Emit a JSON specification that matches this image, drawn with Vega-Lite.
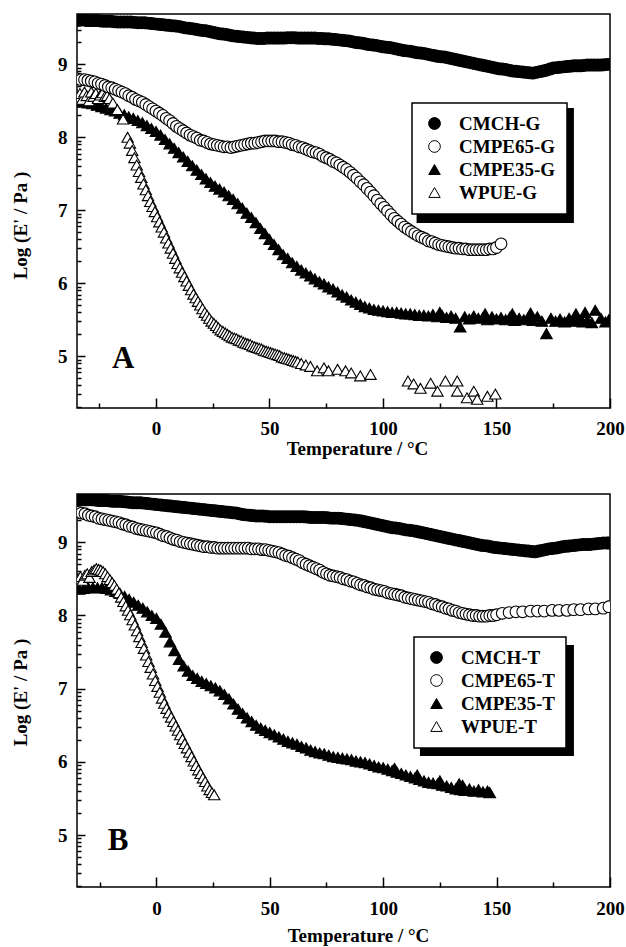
{
"$schema": "https://vega.github.io/schema/vega-lite/v6.json",
"background": "white",
"padding": {"left": 10, "top": 13, "right": 2, "bottom": 2},
"spacing": 34,
"config": {
 "view": {"stroke": "black", "strokeWidth": 1.5},
 "font": "Liberation Serif",
 "axis": {"grid": false, "domain": false, "tickColor": "black", "tickWidth": 1.5, "labelColor": "black", "titleColor": "black", "labelFont": "Liberation Serif", "labelFontSize": 19, "labelFontWeight": "bold", "titleFont": "Liberation Serif", "titleFontSize": 19, "titleFontWeight": "bold", "labelOverlap": false, "labelFlush": false, "labelBound": false, "zindex": 1},
 "legend": {"strokeColor": "black", "strokeWidth": 1.5, "fillColor": "white", "padding": 11, "labelFont": "Liberation Serif", "labelFontSize": 19, "labelFontWeight": "bold", "labelColor": "black", "symbolStrokeWidth": 1, "rowPadding": 3, "labelOffset": 15, "symbolOffset": 2}
},
"datasets": {
"A": [
{"s":"CMPE35-G","t":-34,"v":8.49},{"s":"CMPE35-G","t":-32,"v":8.48},{"s":"CMPE35-G","t":-30,"v":8.47},{"s":"CMPE35-G","t":-28,"v":8.46},{"s":"CMPE35-G","t":-26,"v":8.44},{"s":"CMPE35-G","t":-24,"v":8.42},{"s":"CMPE35-G","t":-22,"v":8.40},{"s":"CMPE35-G","t":-20,"v":8.38},{"s":"CMPE35-G","t":-18,"v":8.36},{"s":"CMPE35-G","t":-16,"v":8.33},{"s":"CMPE35-G","t":-14,"v":8.31},{"s":"CMPE35-G","t":-12,"v":8.28},{"s":"CMPE35-G","t":-10,"v":8.26},{"s":"CMPE35-G","t":-8,"v":8.23},{"s":"CMPE35-G","t":-6,"v":8.20},{"s":"CMPE35-G","t":-4,"v":8.16},{"s":"CMPE35-G","t":-2,"v":8.12},{"s":"CMPE35-G","t":0,"v":8.08},{"s":"CMPE35-G","t":2,"v":8.03},{"s":"CMPE35-G","t":4,"v":7.97},{"s":"CMPE35-G","t":6,"v":7.91},{"s":"CMPE35-G","t":8,"v":7.85},{"s":"CMPE35-G","t":10,"v":7.79},{"s":"CMPE35-G","t":12,"v":7.73},{"s":"CMPE35-G","t":14,"v":7.67},{"s":"CMPE35-G","t":16,"v":7.61},{"s":"CMPE35-G","t":18,"v":7.55},{"s":"CMPE35-G","t":20,"v":7.49},{"s":"CMPE35-G","t":22,"v":7.43},{"s":"CMPE35-G","t":24,"v":7.38},{"s":"CMPE35-G","t":26,"v":7.33},{"s":"CMPE35-G","t":28,"v":7.29},{"s":"CMPE35-G","t":30,"v":7.25},{"s":"CMPE35-G","t":32,"v":7.20},{"s":"CMPE35-G","t":34,"v":7.15},{"s":"CMPE35-G","t":36,"v":7.09},{"s":"CMPE35-G","t":38,"v":7.03},{"s":"CMPE35-G","t":40,"v":6.96},{"s":"CMPE35-G","t":42,"v":6.90},{"s":"CMPE35-G","t":44,"v":6.83},{"s":"CMPE35-G","t":46,"v":6.75},{"s":"CMPE35-G","t":48,"v":6.68},{"s":"CMPE35-G","t":50,"v":6.60},{"s":"CMPE35-G","t":52,"v":6.53},{"s":"CMPE35-G","t":54,"v":6.46},{"s":"CMPE35-G","t":56,"v":6.39},{"s":"CMPE35-G","t":58,"v":6.34},{"s":"CMPE35-G","t":60,"v":6.28},{"s":"CMPE35-G","t":62,"v":6.23},{"s":"CMPE35-G","t":64,"v":6.18},{"s":"CMPE35-G","t":66,"v":6.14},{"s":"CMPE35-G","t":68,"v":6.10},{"s":"CMPE35-G","t":70,"v":6.06},{"s":"CMPE35-G","t":72,"v":6.02},{"s":"CMPE35-G","t":74,"v":5.99},{"s":"CMPE35-G","t":76,"v":5.95},{"s":"CMPE35-G","t":78,"v":5.92},{"s":"CMPE35-G","t":80,"v":5.88},{"s":"CMPE35-G","t":82,"v":5.84},{"s":"CMPE35-G","t":84,"v":5.81},{"s":"CMPE35-G","t":86,"v":5.77},{"s":"CMPE35-G","t":88,"v":5.74},{"s":"CMPE35-G","t":90,"v":5.71},{"s":"CMPE35-G","t":92,"v":5.68},{"s":"CMPE35-G","t":94,"v":5.66},{"s":"CMPE35-G","t":96,"v":5.64},{"s":"CMPE35-G","t":98,"v":5.63},{"s":"CMPE35-G","t":100,"v":5.62},{"s":"CMPE35-G","t":102,"v":5.61},{"s":"CMPE35-G","t":104,"v":5.60},{"s":"CMPE35-G","t":106,"v":5.60},{"s":"CMPE35-G","t":108,"v":5.59},{"s":"CMPE35-G","t":110,"v":5.58},{"s":"CMPE35-G","t":112,"v":5.58},{"s":"CMPE35-G","t":114,"v":5.57},{"s":"CMPE35-G","t":116,"v":5.56},{"s":"CMPE35-G","t":118,"v":5.56},{"s":"CMPE35-G","t":120,"v":5.55},{"s":"CMPE35-G","t":122,"v":5.57},{"s":"CMPE35-G","t":124,"v":5.54},{"s":"CMPE35-G","t":125,"v":5.60},{"s":"CMPE35-G","t":126,"v":5.56},{"s":"CMPE35-G","t":128,"v":5.53},{"s":"CMPE35-G","t":130,"v":5.55},{"s":"CMPE35-G","t":132,"v":5.52},{"s":"CMPE35-G","t":134,"v":5.40},{"s":"CMPE35-G","t":136,"v":5.54},{"s":"CMPE35-G","t":138,"v":5.51},{"s":"CMPE35-G","t":140,"v":5.55},{"s":"CMPE35-G","t":142,"v":5.52},{"s":"CMPE35-G","t":144,"v":5.53},{"s":"CMPE35-G","t":145,"v":5.58},{"s":"CMPE35-G","t":146,"v":5.50},{"s":"CMPE35-G","t":148,"v":5.54},{"s":"CMPE35-G","t":150,"v":5.51},{"s":"CMPE35-G","t":152,"v":5.53},{"s":"CMPE35-G","t":154,"v":5.50},{"s":"CMPE35-G","t":156,"v":5.54},{"s":"CMPE35-G","t":157,"v":5.58},{"s":"CMPE35-G","t":158,"v":5.49},{"s":"CMPE35-G","t":160,"v":5.52},{"s":"CMPE35-G","t":162,"v":5.50},{"s":"CMPE35-G","t":164,"v":5.53},{"s":"CMPE35-G","t":165,"v":5.59},{"s":"CMPE35-G","t":166,"v":5.49},{"s":"CMPE35-G","t":168,"v":5.54},{"s":"CMPE35-G","t":170,"v":5.48},{"s":"CMPE35-G","t":172,"v":5.31},{"s":"CMPE35-G","t":174,"v":5.52},{"s":"CMPE35-G","t":176,"v":5.48},{"s":"CMPE35-G","t":178,"v":5.51},{"s":"CMPE35-G","t":180,"v":5.47},{"s":"CMPE35-G","t":182,"v":5.52},{"s":"CMPE35-G","t":184,"v":5.48},{"s":"CMPE35-G","t":185,"v":5.58},{"s":"CMPE35-G","t":186,"v":5.51},{"s":"CMPE35-G","t":188,"v":5.47},{"s":"CMPE35-G","t":189,"v":5.60},{"s":"CMPE35-G","t":190,"v":5.49},{"s":"CMPE35-G","t":192,"v":5.46},{"s":"CMPE35-G","t":193.5,"v":5.63},{"s":"CMPE35-G","t":196,"v":5.52},{"s":"CMPE35-G","t":198,"v":5.47},{"s":"CMPE35-G","t":199.5,"v":5.50},
{"s":"WPUE-G","t":-34.5,"v":8.55},{"s":"WPUE-G","t":-33.5,"v":8.60},{"s":"WPUE-G","t":-32.5,"v":8.52},{"s":"WPUE-G","t":-31.5,"v":8.62},{"s":"WPUE-G","t":-30.5,"v":8.57},{"s":"WPUE-G","t":-29.5,"v":8.50},{"s":"WPUE-G","t":-28.5,"v":8.62},{"s":"WPUE-G","t":-27.5,"v":8.56},{"s":"WPUE-G","t":-26.5,"v":8.60},{"s":"WPUE-G","t":-25.5,"v":8.53},{"s":"WPUE-G","t":-24.5,"v":8.58},{"s":"WPUE-G","t":-23.5,"v":8.61},{"s":"WPUE-G","t":-22.5,"v":8.56},{"s":"WPUE-G","t":-21.5,"v":8.57},{"s":"WPUE-G","t":-20.5,"v":8.53},{"s":"WPUE-G","t":-19,"v":8.47},{"s":"WPUE-G","t":-17,"v":8.38},{"s":"WPUE-G","t":-14.5,"v":8.25},{"s":"WPUE-G","t":-12.5,"v":8.00},{"s":"WPUE-G","t":-11.5,"v":7.92},{"s":"WPUE-G","t":-10.5,"v":7.82},{"s":"WPUE-G","t":-9.5,"v":7.72},{"s":"WPUE-G","t":-8.5,"v":7.62},{"s":"WPUE-G","t":-7.5,"v":7.53},{"s":"WPUE-G","t":-6.5,"v":7.45},{"s":"WPUE-G","t":-5.5,"v":7.36},{"s":"WPUE-G","t":-4.5,"v":7.28},{"s":"WPUE-G","t":-3.5,"v":7.20},{"s":"WPUE-G","t":-2.5,"v":7.12},{"s":"WPUE-G","t":-1.5,"v":7.05},{"s":"WPUE-G","t":-0.5,"v":6.98},{"s":"WPUE-G","t":0.5,"v":6.91},{"s":"WPUE-G","t":1.5,"v":6.84},{"s":"WPUE-G","t":2.5,"v":6.77},{"s":"WPUE-G","t":3.5,"v":6.70},{"s":"WPUE-G","t":4.5,"v":6.62},{"s":"WPUE-G","t":5.5,"v":6.55},{"s":"WPUE-G","t":6.5,"v":6.48},{"s":"WPUE-G","t":7.5,"v":6.41},{"s":"WPUE-G","t":8.5,"v":6.34},{"s":"WPUE-G","t":9.5,"v":6.27},{"s":"WPUE-G","t":10.5,"v":6.21},{"s":"WPUE-G","t":11.5,"v":6.15},{"s":"WPUE-G","t":12.5,"v":6.09},{"s":"WPUE-G","t":13.5,"v":6.03},{"s":"WPUE-G","t":14.5,"v":5.97},{"s":"WPUE-G","t":15.5,"v":5.91},{"s":"WPUE-G","t":16.5,"v":5.85},{"s":"WPUE-G","t":17.5,"v":5.80},{"s":"WPUE-G","t":18.5,"v":5.75},{"s":"WPUE-G","t":19.5,"v":5.70},{"s":"WPUE-G","t":20.5,"v":5.65},{"s":"WPUE-G","t":21.5,"v":5.60},{"s":"WPUE-G","t":22.5,"v":5.56},{"s":"WPUE-G","t":23.5,"v":5.52},{"s":"WPUE-G","t":24.5,"v":5.48},{"s":"WPUE-G","t":25.5,"v":5.45},{"s":"WPUE-G","t":26.5,"v":5.42},{"s":"WPUE-G","t":27.5,"v":5.39},{"s":"WPUE-G","t":28.5,"v":5.36},{"s":"WPUE-G","t":29.5,"v":5.34},{"s":"WPUE-G","t":30.5,"v":5.32},{"s":"WPUE-G","t":31.5,"v":5.30},{"s":"WPUE-G","t":32.5,"v":5.28},{"s":"WPUE-G","t":33.5,"v":5.26},{"s":"WPUE-G","t":34.5,"v":5.25},{"s":"WPUE-G","t":35.5,"v":5.24},{"s":"WPUE-G","t":36.5,"v":5.22},{"s":"WPUE-G","t":37.5,"v":5.21},{"s":"WPUE-G","t":38.5,"v":5.19},{"s":"WPUE-G","t":39.5,"v":5.18},{"s":"WPUE-G","t":40.5,"v":5.17},{"s":"WPUE-G","t":41.5,"v":5.16},{"s":"WPUE-G","t":42.5,"v":5.14},{"s":"WPUE-G","t":43.5,"v":5.13},{"s":"WPUE-G","t":44.5,"v":5.12},{"s":"WPUE-G","t":45.5,"v":5.11},{"s":"WPUE-G","t":46.5,"v":5.10},{"s":"WPUE-G","t":47.5,"v":5.08},{"s":"WPUE-G","t":48.5,"v":5.07},{"s":"WPUE-G","t":49.5,"v":5.06},{"s":"WPUE-G","t":50.5,"v":5.05},{"s":"WPUE-G","t":51.5,"v":5.04},{"s":"WPUE-G","t":52.5,"v":5.03},{"s":"WPUE-G","t":53.5,"v":5.02},{"s":"WPUE-G","t":54.5,"v":5.01},{"s":"WPUE-G","t":55.5,"v":4.99},{"s":"WPUE-G","t":56.5,"v":4.98},{"s":"WPUE-G","t":57.5,"v":4.97},{"s":"WPUE-G","t":58.5,"v":4.96},{"s":"WPUE-G","t":59.5,"v":4.95},{"s":"WPUE-G","t":60.5,"v":4.94},{"s":"WPUE-G","t":61.5,"v":4.93},{"s":"WPUE-G","t":62.5,"v":4.92},{"s":"WPUE-G","t":64,"v":4.90},{"s":"WPUE-G","t":66,"v":4.88},{"s":"WPUE-G","t":68,"v":4.86},{"s":"WPUE-G","t":71,"v":4.80},{"s":"WPUE-G","t":74,"v":4.84},{"s":"WPUE-G","t":76,"v":4.80},{"s":"WPUE-G","t":80,"v":4.82},{"s":"WPUE-G","t":83.5,"v":4.80},{"s":"WPUE-G","t":86,"v":4.77},{"s":"WPUE-G","t":90,"v":4.73},{"s":"WPUE-G","t":94.5,"v":4.75},{"s":"WPUE-G","t":111,"v":4.66},{"s":"WPUE-G","t":113.5,"v":4.62},{"s":"WPUE-G","t":116.5,"v":4.56},{"s":"WPUE-G","t":121,"v":4.63},{"s":"WPUE-G","t":124,"v":4.52},{"s":"WPUE-G","t":127.5,"v":4.66},{"s":"WPUE-G","t":132.7,"v":4.66},{"s":"WPUE-G","t":132.7,"v":4.52},{"s":"WPUE-G","t":137,"v":4.43},{"s":"WPUE-G","t":140,"v":4.52},{"s":"WPUE-G","t":141.5,"v":4.41},{"s":"WPUE-G","t":146,"v":4.45},{"s":"WPUE-G","t":149.5,"v":4.48},
{"s":"CMPE65-G","t":-34.5,"v":8.80},{"s":"CMPE65-G","t":-33,"v":8.79},{"s":"CMPE65-G","t":-31.5,"v":8.79},{"s":"CMPE65-G","t":-30,"v":8.78},{"s":"CMPE65-G","t":-28.5,"v":8.77},{"s":"CMPE65-G","t":-27,"v":8.76},{"s":"CMPE65-G","t":-25.5,"v":8.74},{"s":"CMPE65-G","t":-24,"v":8.73},{"s":"CMPE65-G","t":-22.5,"v":8.71},{"s":"CMPE65-G","t":-21,"v":8.69},{"s":"CMPE65-G","t":-19.5,"v":8.68},{"s":"CMPE65-G","t":-18,"v":8.66},{"s":"CMPE65-G","t":-16.5,"v":8.64},{"s":"CMPE65-G","t":-15,"v":8.62},{"s":"CMPE65-G","t":-13.5,"v":8.60},{"s":"CMPE65-G","t":-12,"v":8.57},{"s":"CMPE65-G","t":-10.5,"v":8.55},{"s":"CMPE65-G","t":-9,"v":8.52},{"s":"CMPE65-G","t":-7.5,"v":8.50},{"s":"CMPE65-G","t":-6,"v":8.48},{"s":"CMPE65-G","t":-4.5,"v":8.45},{"s":"CMPE65-G","t":-3,"v":8.42},{"s":"CMPE65-G","t":-1.5,"v":8.39},{"s":"CMPE65-G","t":0,"v":8.36},{"s":"CMPE65-G","t":1.5,"v":8.33},{"s":"CMPE65-G","t":3,"v":8.30},{"s":"CMPE65-G","t":4.5,"v":8.26},{"s":"CMPE65-G","t":6,"v":8.23},{"s":"CMPE65-G","t":7.5,"v":8.19},{"s":"CMPE65-G","t":9,"v":8.15},{"s":"CMPE65-G","t":10.5,"v":8.12},{"s":"CMPE65-G","t":12,"v":8.09},{"s":"CMPE65-G","t":13.5,"v":8.06},{"s":"CMPE65-G","t":15,"v":8.03},{"s":"CMPE65-G","t":16.5,"v":8.01},{"s":"CMPE65-G","t":18,"v":7.99},{"s":"CMPE65-G","t":19.5,"v":7.96},{"s":"CMPE65-G","t":21,"v":7.95},{"s":"CMPE65-G","t":22.5,"v":7.93},{"s":"CMPE65-G","t":24,"v":7.91},{"s":"CMPE65-G","t":25.5,"v":7.90},{"s":"CMPE65-G","t":27,"v":7.89},{"s":"CMPE65-G","t":28.5,"v":7.88},{"s":"CMPE65-G","t":30,"v":7.87},{"s":"CMPE65-G","t":31.5,"v":7.87},{"s":"CMPE65-G","t":33,"v":7.86},{"s":"CMPE65-G","t":34.5,"v":7.87},{"s":"CMPE65-G","t":36,"v":7.88},{"s":"CMPE65-G","t":37.5,"v":7.89},{"s":"CMPE65-G","t":39,"v":7.90},{"s":"CMPE65-G","t":40.5,"v":7.91},{"s":"CMPE65-G","t":42,"v":7.92},{"s":"CMPE65-G","t":43.5,"v":7.92},{"s":"CMPE65-G","t":45,"v":7.93},{"s":"CMPE65-G","t":46.5,"v":7.94},{"s":"CMPE65-G","t":48,"v":7.95},{"s":"CMPE65-G","t":49.5,"v":7.95},{"s":"CMPE65-G","t":51,"v":7.95},{"s":"CMPE65-G","t":52.5,"v":7.95},{"s":"CMPE65-G","t":54,"v":7.94},{"s":"CMPE65-G","t":55.5,"v":7.94},{"s":"CMPE65-G","t":57,"v":7.93},{"s":"CMPE65-G","t":58.5,"v":7.92},{"s":"CMPE65-G","t":60,"v":7.90},{"s":"CMPE65-G","t":61.5,"v":7.89},{"s":"CMPE65-G","t":63,"v":7.87},{"s":"CMPE65-G","t":64.5,"v":7.86},{"s":"CMPE65-G","t":66,"v":7.84},{"s":"CMPE65-G","t":67.5,"v":7.82},{"s":"CMPE65-G","t":69,"v":7.80},{"s":"CMPE65-G","t":70.5,"v":7.79},{"s":"CMPE65-G","t":72,"v":7.77},{"s":"CMPE65-G","t":73.5,"v":7.74},{"s":"CMPE65-G","t":75,"v":7.72},{"s":"CMPE65-G","t":76.5,"v":7.70},{"s":"CMPE65-G","t":78,"v":7.67},{"s":"CMPE65-G","t":79.5,"v":7.65},{"s":"CMPE65-G","t":81,"v":7.62},{"s":"CMPE65-G","t":82.5,"v":7.59},{"s":"CMPE65-G","t":84,"v":7.56},{"s":"CMPE65-G","t":85.5,"v":7.52},{"s":"CMPE65-G","t":87,"v":7.48},{"s":"CMPE65-G","t":88.5,"v":7.44},{"s":"CMPE65-G","t":90,"v":7.39},{"s":"CMPE65-G","t":91.5,"v":7.35},{"s":"CMPE65-G","t":93,"v":7.30},{"s":"CMPE65-G","t":94.5,"v":7.25},{"s":"CMPE65-G","t":96,"v":7.20},{"s":"CMPE65-G","t":97.5,"v":7.14},{"s":"CMPE65-G","t":99,"v":7.09},{"s":"CMPE65-G","t":100.5,"v":7.04},{"s":"CMPE65-G","t":102,"v":6.99},{"s":"CMPE65-G","t":103.5,"v":6.94},{"s":"CMPE65-G","t":105,"v":6.89},{"s":"CMPE65-G","t":106.5,"v":6.85},{"s":"CMPE65-G","t":108,"v":6.81},{"s":"CMPE65-G","t":109.5,"v":6.77},{"s":"CMPE65-G","t":111,"v":6.74},{"s":"CMPE65-G","t":112.5,"v":6.71},{"s":"CMPE65-G","t":114,"v":6.68},{"s":"CMPE65-G","t":115.5,"v":6.65},{"s":"CMPE65-G","t":117,"v":6.63},{"s":"CMPE65-G","t":118.5,"v":6.61},{"s":"CMPE65-G","t":120,"v":6.58},{"s":"CMPE65-G","t":121.5,"v":6.57},{"s":"CMPE65-G","t":123,"v":6.55},{"s":"CMPE65-G","t":124.5,"v":6.53},{"s":"CMPE65-G","t":126,"v":6.52},{"s":"CMPE65-G","t":127.5,"v":6.51},{"s":"CMPE65-G","t":129,"v":6.50},{"s":"CMPE65-G","t":130.5,"v":6.49},{"s":"CMPE65-G","t":132,"v":6.48},{"s":"CMPE65-G","t":133.5,"v":6.48},{"s":"CMPE65-G","t":135,"v":6.47},{"s":"CMPE65-G","t":136.5,"v":6.47},{"s":"CMPE65-G","t":138,"v":6.46},{"s":"CMPE65-G","t":139.5,"v":6.46},{"s":"CMPE65-G","t":141,"v":6.46},{"s":"CMPE65-G","t":142.5,"v":6.46},{"s":"CMPE65-G","t":144,"v":6.46},{"s":"CMPE65-G","t":145.5,"v":6.46},{"s":"CMPE65-G","t":147,"v":6.47},{"s":"CMPE65-G","t":148.5,"v":6.47},{"s":"CMPE65-G","t":150,"v":6.49},{"s":"CMPE65-G","t":152,"v":6.54},
{"s":"CMCH-G","t":-35,"v":9.60},{"s":"CMCH-G","t":-32,"v":9.61},{"s":"CMCH-G","t":-29,"v":9.60},{"s":"CMCH-G","t":-26,"v":9.60},{"s":"CMCH-G","t":-23,"v":9.59},{"s":"CMCH-G","t":-20,"v":9.59},{"s":"CMCH-G","t":-17,"v":9.58},{"s":"CMCH-G","t":-14,"v":9.58},{"s":"CMCH-G","t":-11,"v":9.58},{"s":"CMCH-G","t":-8,"v":9.57},{"s":"CMCH-G","t":-5,"v":9.57},{"s":"CMCH-G","t":-2,"v":9.56},{"s":"CMCH-G","t":1,"v":9.55},{"s":"CMCH-G","t":4,"v":9.54},{"s":"CMCH-G","t":7,"v":9.53},{"s":"CMCH-G","t":10,"v":9.52},{"s":"CMCH-G","t":13,"v":9.50},{"s":"CMCH-G","t":16,"v":9.49},{"s":"CMCH-G","t":19,"v":9.47},{"s":"CMCH-G","t":22,"v":9.46},{"s":"CMCH-G","t":25,"v":9.44},{"s":"CMCH-G","t":28,"v":9.42},{"s":"CMCH-G","t":31,"v":9.41},{"s":"CMCH-G","t":34,"v":9.39},{"s":"CMCH-G","t":37,"v":9.38},{"s":"CMCH-G","t":40,"v":9.37},{"s":"CMCH-G","t":43,"v":9.36},{"s":"CMCH-G","t":46,"v":9.355},{"s":"CMCH-G","t":49,"v":9.36},{"s":"CMCH-G","t":52,"v":9.36},{"s":"CMCH-G","t":55,"v":9.36},{"s":"CMCH-G","t":58,"v":9.365},{"s":"CMCH-G","t":61,"v":9.365},{"s":"CMCH-G","t":64,"v":9.36},{"s":"CMCH-G","t":67,"v":9.36},{"s":"CMCH-G","t":70,"v":9.36},{"s":"CMCH-G","t":73,"v":9.355},{"s":"CMCH-G","t":76,"v":9.35},{"s":"CMCH-G","t":79,"v":9.34},{"s":"CMCH-G","t":82,"v":9.33},{"s":"CMCH-G","t":85,"v":9.32},{"s":"CMCH-G","t":88,"v":9.30},{"s":"CMCH-G","t":91,"v":9.29},{"s":"CMCH-G","t":94,"v":9.27},{"s":"CMCH-G","t":97,"v":9.26},{"s":"CMCH-G","t":100,"v":9.24},{"s":"CMCH-G","t":103,"v":9.23},{"s":"CMCH-G","t":106,"v":9.21},{"s":"CMCH-G","t":109,"v":9.19},{"s":"CMCH-G","t":112,"v":9.18},{"s":"CMCH-G","t":115,"v":9.16},{"s":"CMCH-G","t":118,"v":9.15},{"s":"CMCH-G","t":121,"v":9.13},{"s":"CMCH-G","t":124,"v":9.11},{"s":"CMCH-G","t":127,"v":9.10},{"s":"CMCH-G","t":130,"v":9.08},{"s":"CMCH-G","t":133,"v":9.06},{"s":"CMCH-G","t":136,"v":9.04},{"s":"CMCH-G","t":139,"v":9.02},{"s":"CMCH-G","t":142,"v":9.00},{"s":"CMCH-G","t":145,"v":8.98},{"s":"CMCH-G","t":148,"v":8.96},{"s":"CMCH-G","t":151,"v":8.94},{"s":"CMCH-G","t":154,"v":8.93},{"s":"CMCH-G","t":157,"v":8.91},{"s":"CMCH-G","t":160,"v":8.90},{"s":"CMCH-G","t":163,"v":8.89},{"s":"CMCH-G","t":166,"v":8.88},{"s":"CMCH-G","t":169,"v":8.90},{"s":"CMCH-G","t":172,"v":8.92},{"s":"CMCH-G","t":175,"v":8.95},{"s":"CMCH-G","t":178,"v":8.96},{"s":"CMCH-G","t":181,"v":8.97},{"s":"CMCH-G","t":184,"v":8.98},{"s":"CMCH-G","t":187,"v":8.98},{"s":"CMCH-G","t":190,"v":8.99},{"s":"CMCH-G","t":193,"v":8.99},{"s":"CMCH-G","t":196,"v":8.99},{"s":"CMCH-G","t":199,"v":9.00},
{"s":"CMCH-G","t":-33.5,"v":9.605},{"s":"CMCH-G","t":-30.5,"v":9.60},{"s":"CMCH-G","t":-27.5,"v":9.60},{"s":"CMCH-G","t":-24.5,"v":9.595},{"s":"CMCH-G","t":-21.5,"v":9.59},{"s":"CMCH-G","t":-18.5,"v":9.585},{"s":"CMCH-G","t":-15.5,"v":9.58},{"s":"CMCH-G","t":-12.5,"v":9.58},{"s":"CMCH-G","t":-9.5,"v":9.575},{"s":"CMCH-G","t":-6.5,"v":9.57},{"s":"CMCH-G","t":-3.5,"v":9.565},{"s":"CMCH-G","t":-0.5,"v":9.555},{"s":"CMCH-G","t":2.5,"v":9.545},{"s":"CMCH-G","t":5.5,"v":9.535},{"s":"CMCH-G","t":8.5,"v":9.525},{"s":"CMCH-G","t":11.5,"v":9.51},{"s":"CMCH-G","t":14.5,"v":9.495},{"s":"CMCH-G","t":17.5,"v":9.48},{"s":"CMCH-G","t":20.5,"v":9.465},{"s":"CMCH-G","t":23.5,"v":9.45},{"s":"CMCH-G","t":26.5,"v":9.43},{"s":"CMCH-G","t":29.5,"v":9.415},{"s":"CMCH-G","t":32.5,"v":9.40},{"s":"CMCH-G","t":35.5,"v":9.385},{"s":"CMCH-G","t":38.5,"v":9.375},{"s":"CMCH-G","t":41.5,"v":9.365},{"s":"CMCH-G","t":44.5,"v":9.355},{"s":"CMCH-G","t":47.5,"v":9.355},{"s":"CMCH-G","t":50.5,"v":9.36},{"s":"CMCH-G","t":53.5,"v":9.36},{"s":"CMCH-G","t":56.5,"v":9.36},{"s":"CMCH-G","t":59.5,"v":9.365},{"s":"CMCH-G","t":62.5,"v":9.36},{"s":"CMCH-G","t":65.5,"v":9.36},{"s":"CMCH-G","t":68.5,"v":9.36},{"s":"CMCH-G","t":71.5,"v":9.355},{"s":"CMCH-G","t":74.5,"v":9.35},{"s":"CMCH-G","t":77.5,"v":9.345},{"s":"CMCH-G","t":80.5,"v":9.335},{"s":"CMCH-G","t":83.5,"v":9.325},{"s":"CMCH-G","t":86.5,"v":9.31},{"s":"CMCH-G","t":89.5,"v":9.295},{"s":"CMCH-G","t":92.5,"v":9.28},{"s":"CMCH-G","t":95.5,"v":9.265},{"s":"CMCH-G","t":98.5,"v":9.25},{"s":"CMCH-G","t":101.5,"v":9.235},{"s":"CMCH-G","t":104.5,"v":9.22},{"s":"CMCH-G","t":107.5,"v":9.20},{"s":"CMCH-G","t":110.5,"v":9.185},{"s":"CMCH-G","t":113.5,"v":9.17},{"s":"CMCH-G","t":116.5,"v":9.155},{"s":"CMCH-G","t":119.5,"v":9.14},{"s":"CMCH-G","t":122.5,"v":9.12},{"s":"CMCH-G","t":125.5,"v":9.105},{"s":"CMCH-G","t":128.5,"v":9.09},{"s":"CMCH-G","t":131.5,"v":9.07},{"s":"CMCH-G","t":134.5,"v":9.05},{"s":"CMCH-G","t":137.5,"v":9.03},{"s":"CMCH-G","t":140.5,"v":9.01},{"s":"CMCH-G","t":143.5,"v":8.99},{"s":"CMCH-G","t":146.5,"v":8.97},{"s":"CMCH-G","t":149.5,"v":8.95},{"s":"CMCH-G","t":152.5,"v":8.935},{"s":"CMCH-G","t":155.5,"v":8.92},{"s":"CMCH-G","t":158.5,"v":8.905},{"s":"CMCH-G","t":161.5,"v":8.895},{"s":"CMCH-G","t":164.5,"v":8.885},{"s":"CMCH-G","t":167.5,"v":8.89},{"s":"CMCH-G","t":170.5,"v":8.91},{"s":"CMCH-G","t":173.5,"v":8.935},{"s":"CMCH-G","t":176.5,"v":8.955},{"s":"CMCH-G","t":179.5,"v":8.965},{"s":"CMCH-G","t":182.5,"v":8.975},{"s":"CMCH-G","t":185.5,"v":8.98},{"s":"CMCH-G","t":188.5,"v":8.985},{"s":"CMCH-G","t":191.5,"v":8.99},{"s":"CMCH-G","t":194.5,"v":8.99},{"s":"CMCH-G","t":197.5,"v":8.995}
],
"B": [
{"s":"CMPE35-T","t":-34,"v":8.36},{"s":"CMPE35-T","t":-32,"v":8.37},{"s":"CMPE35-T","t":-30,"v":8.38},{"s":"CMPE35-T","t":-28,"v":8.38},{"s":"CMPE35-T","t":-26,"v":8.38},{"s":"CMPE35-T","t":-24,"v":8.38},{"s":"CMPE35-T","t":-22,"v":8.37},{"s":"CMPE35-T","t":-20,"v":8.35},{"s":"CMPE35-T","t":-18,"v":8.33},{"s":"CMPE35-T","t":-16,"v":8.30},{"s":"CMPE35-T","t":-14,"v":8.26},{"s":"CMPE35-T","t":-12,"v":8.22},{"s":"CMPE35-T","t":-10,"v":8.18},{"s":"CMPE35-T","t":-8,"v":8.14},{"s":"CMPE35-T","t":-6,"v":8.10},{"s":"CMPE35-T","t":-4,"v":8.05},{"s":"CMPE35-T","t":-2,"v":8.00},{"s":"CMPE35-T","t":0,"v":7.96},{"s":"CMPE35-T","t":2,"v":7.88},{"s":"CMPE35-T","t":4,"v":7.77},{"s":"CMPE35-T","t":6,"v":7.64},{"s":"CMPE35-T","t":8,"v":7.52},{"s":"CMPE35-T","t":10,"v":7.40},{"s":"CMPE35-T","t":12,"v":7.31},{"s":"CMPE35-T","t":14,"v":7.24},{"s":"CMPE35-T","t":16,"v":7.18},{"s":"CMPE35-T","t":18,"v":7.14},{"s":"CMPE35-T","t":20,"v":7.10},{"s":"CMPE35-T","t":22,"v":7.07},{"s":"CMPE35-T","t":24,"v":7.04},{"s":"CMPE35-T","t":26,"v":7.01},{"s":"CMPE35-T","t":28,"v":6.97},{"s":"CMPE35-T","t":30,"v":6.92},{"s":"CMPE35-T","t":32,"v":6.86},{"s":"CMPE35-T","t":34,"v":6.79},{"s":"CMPE35-T","t":36,"v":6.72},{"s":"CMPE35-T","t":38,"v":6.66},{"s":"CMPE35-T","t":40,"v":6.60},{"s":"CMPE35-T","t":42,"v":6.55},{"s":"CMPE35-T","t":44,"v":6.50},{"s":"CMPE35-T","t":46,"v":6.46},{"s":"CMPE35-T","t":48,"v":6.43},{"s":"CMPE35-T","t":50,"v":6.40},{"s":"CMPE35-T","t":52,"v":6.37},{"s":"CMPE35-T","t":54,"v":6.34},{"s":"CMPE35-T","t":56,"v":6.31},{"s":"CMPE35-T","t":58,"v":6.28},{"s":"CMPE35-T","t":60,"v":6.26},{"s":"CMPE35-T","t":62,"v":6.24},{"s":"CMPE35-T","t":64,"v":6.21},{"s":"CMPE35-T","t":66,"v":6.19},{"s":"CMPE35-T","t":68,"v":6.16},{"s":"CMPE35-T","t":70,"v":6.14},{"s":"CMPE35-T","t":72,"v":6.12},{"s":"CMPE35-T","t":74,"v":6.11},{"s":"CMPE35-T","t":76,"v":6.09},{"s":"CMPE35-T","t":78,"v":6.07},{"s":"CMPE35-T","t":80,"v":6.06},{"s":"CMPE35-T","t":82,"v":6.05},{"s":"CMPE35-T","t":84,"v":6.04},{"s":"CMPE35-T","t":86,"v":6.03},{"s":"CMPE35-T","t":88,"v":6.01},{"s":"CMPE35-T","t":90,"v":6.00},{"s":"CMPE35-T","t":92,"v":5.99},{"s":"CMPE35-T","t":94,"v":5.97},{"s":"CMPE35-T","t":96,"v":5.95},{"s":"CMPE35-T","t":98,"v":5.93},{"s":"CMPE35-T","t":100,"v":5.92},{"s":"CMPE35-T","t":102,"v":5.90},{"s":"CMPE35-T","t":104,"v":5.88},{"s":"CMPE35-T","t":105,"v":5.91},{"s":"CMPE35-T","t":106,"v":5.86},{"s":"CMPE35-T","t":108,"v":5.84},{"s":"CMPE35-T","t":110,"v":5.82},{"s":"CMPE35-T","t":112,"v":5.80},{"s":"CMPE35-T","t":114,"v":5.78},{"s":"CMPE35-T","t":115,"v":5.82},{"s":"CMPE35-T","t":116,"v":5.76},{"s":"CMPE35-T","t":118,"v":5.74},{"s":"CMPE35-T","t":120,"v":5.72},{"s":"CMPE35-T","t":122,"v":5.71},{"s":"CMPE35-T","t":124,"v":5.70},{"s":"CMPE35-T","t":125,"v":5.74},{"s":"CMPE35-T","t":126,"v":5.68},{"s":"CMPE35-T","t":128,"v":5.67},{"s":"CMPE35-T","t":130,"v":5.65},{"s":"CMPE35-T","t":132,"v":5.63},{"s":"CMPE35-T","t":133.5,"v":5.70},{"s":"CMPE35-T","t":134,"v":5.62},{"s":"CMPE35-T","t":135,"v":5.68},{"s":"CMPE35-T","t":136,"v":5.61},{"s":"CMPE35-T","t":138,"v":5.63},{"s":"CMPE35-T","t":140,"v":5.60},{"s":"CMPE35-T","t":142,"v":5.62},{"s":"CMPE35-T","t":144,"v":5.59},{"s":"CMPE35-T","t":146,"v":5.60},{"s":"CMPE35-T","t":147,"v":5.58},
{"s":"WPUE-T","t":-34.5,"v":8.50},{"s":"WPUE-T","t":-33.5,"v":8.53},{"s":"WPUE-T","t":-32.5,"v":8.48},{"s":"WPUE-T","t":-31.5,"v":8.55},{"s":"WPUE-T","t":-30.5,"v":8.57},{"s":"WPUE-T","t":-29.5,"v":8.52},{"s":"WPUE-T","t":-28.5,"v":8.60},{"s":"WPUE-T","t":-27.5,"v":8.62},{"s":"WPUE-T","t":-26.5,"v":8.64},{"s":"WPUE-T","t":-25.5,"v":8.63},{"s":"WPUE-T","t":-24.5,"v":8.62},{"s":"WPUE-T","t":-23.5,"v":8.60},{"s":"WPUE-T","t":-22.5,"v":8.57},{"s":"WPUE-T","t":-21.5,"v":8.53},{"s":"WPUE-T","t":-20.5,"v":8.49},{"s":"WPUE-T","t":-19.5,"v":8.45},{"s":"WPUE-T","t":-18.5,"v":8.41},{"s":"WPUE-T","t":-17.5,"v":8.36},{"s":"WPUE-T","t":-16.5,"v":8.31},{"s":"WPUE-T","t":-15.5,"v":8.25},{"s":"WPUE-T","t":-14.5,"v":8.19},{"s":"WPUE-T","t":-13.5,"v":8.13},{"s":"WPUE-T","t":-12.5,"v":8.07},{"s":"WPUE-T","t":-11.5,"v":8.01},{"s":"WPUE-T","t":-10.5,"v":7.94},{"s":"WPUE-T","t":-9.5,"v":7.87},{"s":"WPUE-T","t":-8.5,"v":7.79},{"s":"WPUE-T","t":-7.5,"v":7.71},{"s":"WPUE-T","t":-6.5,"v":7.63},{"s":"WPUE-T","t":-5.5,"v":7.55},{"s":"WPUE-T","t":-4.5,"v":7.46},{"s":"WPUE-T","t":-3.5,"v":7.37},{"s":"WPUE-T","t":-2.5,"v":7.29},{"s":"WPUE-T","t":-1.5,"v":7.20},{"s":"WPUE-T","t":-0.5,"v":7.11},{"s":"WPUE-T","t":0.5,"v":7.03},{"s":"WPUE-T","t":1.5,"v":6.95},{"s":"WPUE-T","t":2.5,"v":6.87},{"s":"WPUE-T","t":3.5,"v":6.80},{"s":"WPUE-T","t":4.5,"v":6.73},{"s":"WPUE-T","t":5.5,"v":6.67},{"s":"WPUE-T","t":6.5,"v":6.61},{"s":"WPUE-T","t":7.5,"v":6.55},{"s":"WPUE-T","t":8.5,"v":6.49},{"s":"WPUE-T","t":9.5,"v":6.43},{"s":"WPUE-T","t":10.5,"v":6.37},{"s":"WPUE-T","t":11.5,"v":6.31},{"s":"WPUE-T","t":12.5,"v":6.25},{"s":"WPUE-T","t":13.5,"v":6.19},{"s":"WPUE-T","t":14.5,"v":6.13},{"s":"WPUE-T","t":15.5,"v":6.07},{"s":"WPUE-T","t":16.5,"v":6.01},{"s":"WPUE-T","t":17.5,"v":5.95},{"s":"WPUE-T","t":18.5,"v":5.89},{"s":"WPUE-T","t":19.5,"v":5.84},{"s":"WPUE-T","t":20.5,"v":5.78},{"s":"WPUE-T","t":21.5,"v":5.73},{"s":"WPUE-T","t":22.5,"v":5.67},{"s":"WPUE-T","t":23.5,"v":5.62},{"s":"WPUE-T","t":24.5,"v":5.58},{"s":"WPUE-T","t":25.5,"v":5.55},
{"s":"CMPE65-T","t":-34.5,"v":9.41},{"s":"CMPE65-T","t":-33,"v":9.40},{"s":"CMPE65-T","t":-31.5,"v":9.39},{"s":"CMPE65-T","t":-30,"v":9.37},{"s":"CMPE65-T","t":-28.5,"v":9.36},{"s":"CMPE65-T","t":-27,"v":9.35},{"s":"CMPE65-T","t":-25.5,"v":9.33},{"s":"CMPE65-T","t":-24,"v":9.32},{"s":"CMPE65-T","t":-22.5,"v":9.31},{"s":"CMPE65-T","t":-21,"v":9.30},{"s":"CMPE65-T","t":-19.5,"v":9.29},{"s":"CMPE65-T","t":-18,"v":9.28},{"s":"CMPE65-T","t":-16.5,"v":9.27},{"s":"CMPE65-T","t":-15,"v":9.25},{"s":"CMPE65-T","t":-13.5,"v":9.24},{"s":"CMPE65-T","t":-12,"v":9.22},{"s":"CMPE65-T","t":-10.5,"v":9.21},{"s":"CMPE65-T","t":-9,"v":9.19},{"s":"CMPE65-T","t":-7.5,"v":9.18},{"s":"CMPE65-T","t":-6,"v":9.17},{"s":"CMPE65-T","t":-4.5,"v":9.16},{"s":"CMPE65-T","t":-3,"v":9.15},{"s":"CMPE65-T","t":-1.5,"v":9.14},{"s":"CMPE65-T","t":0,"v":9.13},{"s":"CMPE65-T","t":1.5,"v":9.11},{"s":"CMPE65-T","t":3,"v":9.09},{"s":"CMPE65-T","t":4.5,"v":9.08},{"s":"CMPE65-T","t":6,"v":9.06},{"s":"CMPE65-T","t":7.5,"v":9.04},{"s":"CMPE65-T","t":9,"v":9.03},{"s":"CMPE65-T","t":10.5,"v":9.01},{"s":"CMPE65-T","t":12,"v":9.00},{"s":"CMPE65-T","t":13.5,"v":8.99},{"s":"CMPE65-T","t":15,"v":8.98},{"s":"CMPE65-T","t":16.5,"v":8.97},{"s":"CMPE65-T","t":18,"v":8.96},{"s":"CMPE65-T","t":19.5,"v":8.95},{"s":"CMPE65-T","t":21,"v":8.94},{"s":"CMPE65-T","t":22.5,"v":8.94},{"s":"CMPE65-T","t":24,"v":8.93},{"s":"CMPE65-T","t":25.5,"v":8.93},{"s":"CMPE65-T","t":27,"v":8.92},{"s":"CMPE65-T","t":28.5,"v":8.92},{"s":"CMPE65-T","t":30,"v":8.92},{"s":"CMPE65-T","t":31.5,"v":8.92},{"s":"CMPE65-T","t":33,"v":8.92},{"s":"CMPE65-T","t":34.5,"v":8.92},{"s":"CMPE65-T","t":36,"v":8.92},{"s":"CMPE65-T","t":37.5,"v":8.92},{"s":"CMPE65-T","t":39,"v":8.92},{"s":"CMPE65-T","t":40.5,"v":8.92},{"s":"CMPE65-T","t":42,"v":8.91},{"s":"CMPE65-T","t":43.5,"v":8.91},{"s":"CMPE65-T","t":45,"v":8.91},{"s":"CMPE65-T","t":46.5,"v":8.90},{"s":"CMPE65-T","t":48,"v":8.90},{"s":"CMPE65-T","t":49.5,"v":8.89},{"s":"CMPE65-T","t":51,"v":8.88},{"s":"CMPE65-T","t":52.5,"v":8.87},{"s":"CMPE65-T","t":54,"v":8.86},{"s":"CMPE65-T","t":55.5,"v":8.84},{"s":"CMPE65-T","t":57,"v":8.82},{"s":"CMPE65-T","t":58.5,"v":8.81},{"s":"CMPE65-T","t":60,"v":8.79},{"s":"CMPE65-T","t":61.5,"v":8.77},{"s":"CMPE65-T","t":63,"v":8.75},{"s":"CMPE65-T","t":64.5,"v":8.72},{"s":"CMPE65-T","t":66,"v":8.70},{"s":"CMPE65-T","t":67.5,"v":8.68},{"s":"CMPE65-T","t":69,"v":8.66},{"s":"CMPE65-T","t":70.5,"v":8.64},{"s":"CMPE65-T","t":72,"v":8.62},{"s":"CMPE65-T","t":73.5,"v":8.59},{"s":"CMPE65-T","t":75,"v":8.57},{"s":"CMPE65-T","t":76.5,"v":8.55},{"s":"CMPE65-T","t":78,"v":8.54},{"s":"CMPE65-T","t":79.5,"v":8.53},{"s":"CMPE65-T","t":81,"v":8.52},{"s":"CMPE65-T","t":82.5,"v":8.50},{"s":"CMPE65-T","t":84,"v":8.49},{"s":"CMPE65-T","t":85.5,"v":8.47},{"s":"CMPE65-T","t":87,"v":8.46},{"s":"CMPE65-T","t":88.5,"v":8.44},{"s":"CMPE65-T","t":90,"v":8.42},{"s":"CMPE65-T","t":91.5,"v":8.41},{"s":"CMPE65-T","t":93,"v":8.39},{"s":"CMPE65-T","t":94.5,"v":8.38},{"s":"CMPE65-T","t":96,"v":8.36},{"s":"CMPE65-T","t":97.5,"v":8.35},{"s":"CMPE65-T","t":99,"v":8.34},{"s":"CMPE65-T","t":100.5,"v":8.33},{"s":"CMPE65-T","t":102,"v":8.31},{"s":"CMPE65-T","t":103.5,"v":8.30},{"s":"CMPE65-T","t":105,"v":8.29},{"s":"CMPE65-T","t":106.5,"v":8.28},{"s":"CMPE65-T","t":108,"v":8.27},{"s":"CMPE65-T","t":109.5,"v":8.25},{"s":"CMPE65-T","t":111,"v":8.24},{"s":"CMPE65-T","t":112.5,"v":8.23},{"s":"CMPE65-T","t":114,"v":8.22},{"s":"CMPE65-T","t":115.5,"v":8.21},{"s":"CMPE65-T","t":117,"v":8.20},{"s":"CMPE65-T","t":118.5,"v":8.19},{"s":"CMPE65-T","t":120,"v":8.18},{"s":"CMPE65-T","t":121.5,"v":8.16},{"s":"CMPE65-T","t":123,"v":8.15},{"s":"CMPE65-T","t":124.5,"v":8.13},{"s":"CMPE65-T","t":126,"v":8.12},{"s":"CMPE65-T","t":127.5,"v":8.10},{"s":"CMPE65-T","t":129,"v":8.09},{"s":"CMPE65-T","t":130.5,"v":8.07},{"s":"CMPE65-T","t":132,"v":8.06},{"s":"CMPE65-T","t":133.5,"v":8.04},{"s":"CMPE65-T","t":135,"v":8.03},{"s":"CMPE65-T","t":136.5,"v":8.02},{"s":"CMPE65-T","t":138,"v":8.01},{"s":"CMPE65-T","t":139.5,"v":8.00},{"s":"CMPE65-T","t":141,"v":8.00},{"s":"CMPE65-T","t":142.5,"v":7.99},{"s":"CMPE65-T","t":144,"v":7.99},{"s":"CMPE65-T","t":145.5,"v":7.99},{"s":"CMPE65-T","t":147,"v":8.00},{"s":"CMPE65-T","t":148.5,"v":8.00},{"s":"CMPE65-T","t":150,"v":8.01},{"s":"CMPE65-T","t":152.5,"v":8.03},{"s":"CMPE65-T","t":155.5,"v":8.04},{"s":"CMPE65-T","t":158.5,"v":8.05},{"s":"CMPE65-T","t":161.5,"v":8.05},{"s":"CMPE65-T","t":165,"v":8.06},{"s":"CMPE65-T","t":168,"v":8.06},{"s":"CMPE65-T","t":171,"v":8.06},{"s":"CMPE65-T","t":174.5,"v":8.07},{"s":"CMPE65-T","t":177.5,"v":8.07},{"s":"CMPE65-T","t":181,"v":8.07},{"s":"CMPE65-T","t":184,"v":8.08},{"s":"CMPE65-T","t":187,"v":8.08},{"s":"CMPE65-T","t":190.5,"v":8.09},{"s":"CMPE65-T","t":193.5,"v":8.09},{"s":"CMPE65-T","t":197,"v":8.10},{"s":"CMPE65-T","t":199.5,"v":8.12},
{"s":"CMCH-T","t":-34,"v":9.58},{"s":"CMCH-T","t":-31,"v":9.58},{"s":"CMCH-T","t":-28,"v":9.58},{"s":"CMCH-T","t":-25,"v":9.57},{"s":"CMCH-T","t":-22,"v":9.57},{"s":"CMCH-T","t":-19,"v":9.56},{"s":"CMCH-T","t":-16,"v":9.56},{"s":"CMCH-T","t":-13,"v":9.55},{"s":"CMCH-T","t":-10,"v":9.54},{"s":"CMCH-T","t":-7,"v":9.54},{"s":"CMCH-T","t":-4,"v":9.53},{"s":"CMCH-T","t":-1,"v":9.52},{"s":"CMCH-T","t":2,"v":9.51},{"s":"CMCH-T","t":5,"v":9.50},{"s":"CMCH-T","t":8,"v":9.49},{"s":"CMCH-T","t":11,"v":9.48},{"s":"CMCH-T","t":14,"v":9.47},{"s":"CMCH-T","t":17,"v":9.46},{"s":"CMCH-T","t":20,"v":9.45},{"s":"CMCH-T","t":23,"v":9.44},{"s":"CMCH-T","t":26,"v":9.43},{"s":"CMCH-T","t":29,"v":9.42},{"s":"CMCH-T","t":32,"v":9.41},{"s":"CMCH-T","t":35,"v":9.40},{"s":"CMCH-T","t":38,"v":9.38},{"s":"CMCH-T","t":41,"v":9.37},{"s":"CMCH-T","t":44,"v":9.36},{"s":"CMCH-T","t":47,"v":9.36},{"s":"CMCH-T","t":50,"v":9.35},{"s":"CMCH-T","t":53,"v":9.35},{"s":"CMCH-T","t":56,"v":9.35},{"s":"CMCH-T","t":59,"v":9.35},{"s":"CMCH-T","t":62,"v":9.35},{"s":"CMCH-T","t":65,"v":9.35},{"s":"CMCH-T","t":68,"v":9.34},{"s":"CMCH-T","t":71,"v":9.34},{"s":"CMCH-T","t":74,"v":9.34},{"s":"CMCH-T","t":77,"v":9.33},{"s":"CMCH-T","t":80,"v":9.33},{"s":"CMCH-T","t":83,"v":9.32},{"s":"CMCH-T","t":86,"v":9.31},{"s":"CMCH-T","t":89,"v":9.30},{"s":"CMCH-T","t":92,"v":9.28},{"s":"CMCH-T","t":95,"v":9.26},{"s":"CMCH-T","t":98,"v":9.24},{"s":"CMCH-T","t":101,"v":9.22},{"s":"CMCH-T","t":104,"v":9.20},{"s":"CMCH-T","t":107,"v":9.19},{"s":"CMCH-T","t":110,"v":9.17},{"s":"CMCH-T","t":113,"v":9.16},{"s":"CMCH-T","t":116,"v":9.14},{"s":"CMCH-T","t":119,"v":9.12},{"s":"CMCH-T","t":122,"v":9.10},{"s":"CMCH-T","t":125,"v":9.08},{"s":"CMCH-T","t":128,"v":9.06},{"s":"CMCH-T","t":131,"v":9.04},{"s":"CMCH-T","t":134,"v":9.02},{"s":"CMCH-T","t":137,"v":9.00},{"s":"CMCH-T","t":140,"v":8.98},{"s":"CMCH-T","t":143,"v":8.96},{"s":"CMCH-T","t":146,"v":8.95},{"s":"CMCH-T","t":149,"v":8.93},{"s":"CMCH-T","t":152,"v":8.92},{"s":"CMCH-T","t":155,"v":8.91},{"s":"CMCH-T","t":158,"v":8.90},{"s":"CMCH-T","t":161,"v":8.89},{"s":"CMCH-T","t":164,"v":8.88},{"s":"CMCH-T","t":167,"v":8.87},{"s":"CMCH-T","t":170,"v":8.89},{"s":"CMCH-T","t":173,"v":8.91},{"s":"CMCH-T","t":176,"v":8.92},{"s":"CMCH-T","t":179,"v":8.94},{"s":"CMCH-T","t":182,"v":8.95},{"s":"CMCH-T","t":185,"v":8.96},{"s":"CMCH-T","t":188,"v":8.97},{"s":"CMCH-T","t":191,"v":8.97},{"s":"CMCH-T","t":194,"v":8.98},{"s":"CMCH-T","t":197,"v":8.99},{"s":"CMCH-T","t":199.5,"v":8.99},
{"s":"CMCH-T","t":-32.5,"v":9.58},{"s":"CMCH-T","t":-29.5,"v":9.58},{"s":"CMCH-T","t":-26.5,"v":9.575},{"s":"CMCH-T","t":-23.5,"v":9.57},{"s":"CMCH-T","t":-20.5,"v":9.565},{"s":"CMCH-T","t":-17.5,"v":9.56},{"s":"CMCH-T","t":-14.5,"v":9.555},{"s":"CMCH-T","t":-11.5,"v":9.545},{"s":"CMCH-T","t":-8.5,"v":9.54},{"s":"CMCH-T","t":-5.5,"v":9.535},{"s":"CMCH-T","t":-2.5,"v":9.525},{"s":"CMCH-T","t":0.5,"v":9.515},{"s":"CMCH-T","t":3.5,"v":9.505},{"s":"CMCH-T","t":6.5,"v":9.495},{"s":"CMCH-T","t":9.5,"v":9.485},{"s":"CMCH-T","t":12.5,"v":9.475},{"s":"CMCH-T","t":15.5,"v":9.465},{"s":"CMCH-T","t":18.5,"v":9.455},{"s":"CMCH-T","t":21.5,"v":9.445},{"s":"CMCH-T","t":24.5,"v":9.435},{"s":"CMCH-T","t":27.5,"v":9.425},{"s":"CMCH-T","t":30.5,"v":9.415},{"s":"CMCH-T","t":33.5,"v":9.405},{"s":"CMCH-T","t":36.5,"v":9.39},{"s":"CMCH-T","t":39.5,"v":9.375},{"s":"CMCH-T","t":42.5,"v":9.365},{"s":"CMCH-T","t":45.5,"v":9.36},{"s":"CMCH-T","t":48.5,"v":9.355},{"s":"CMCH-T","t":51.5,"v":9.35},{"s":"CMCH-T","t":54.5,"v":9.35},{"s":"CMCH-T","t":57.5,"v":9.35},{"s":"CMCH-T","t":60.5,"v":9.35},{"s":"CMCH-T","t":63.5,"v":9.35},{"s":"CMCH-T","t":66.5,"v":9.345},{"s":"CMCH-T","t":69.5,"v":9.34},{"s":"CMCH-T","t":72.5,"v":9.34},{"s":"CMCH-T","t":75.5,"v":9.335},{"s":"CMCH-T","t":78.5,"v":9.33},{"s":"CMCH-T","t":81.5,"v":9.325},{"s":"CMCH-T","t":84.5,"v":9.315},{"s":"CMCH-T","t":87.5,"v":9.305},{"s":"CMCH-T","t":90.5,"v":9.29},{"s":"CMCH-T","t":93.5,"v":9.27},{"s":"CMCH-T","t":96.5,"v":9.25},{"s":"CMCH-T","t":99.5,"v":9.23},{"s":"CMCH-T","t":102.5,"v":9.21},{"s":"CMCH-T","t":105.5,"v":9.195},{"s":"CMCH-T","t":108.5,"v":9.18},{"s":"CMCH-T","t":111.5,"v":9.165},{"s":"CMCH-T","t":114.5,"v":9.15},{"s":"CMCH-T","t":117.5,"v":9.13},{"s":"CMCH-T","t":120.5,"v":9.11},{"s":"CMCH-T","t":123.5,"v":9.09},{"s":"CMCH-T","t":126.5,"v":9.07},{"s":"CMCH-T","t":129.5,"v":9.05},{"s":"CMCH-T","t":132.5,"v":9.03},{"s":"CMCH-T","t":135.5,"v":9.01},{"s":"CMCH-T","t":138.5,"v":8.99},{"s":"CMCH-T","t":141.5,"v":8.97},{"s":"CMCH-T","t":144.5,"v":8.955},{"s":"CMCH-T","t":147.5,"v":8.94},{"s":"CMCH-T","t":150.5,"v":8.925},{"s":"CMCH-T","t":153.5,"v":8.915},{"s":"CMCH-T","t":156.5,"v":8.905},{"s":"CMCH-T","t":159.5,"v":8.895},{"s":"CMCH-T","t":162.5,"v":8.885},{"s":"CMCH-T","t":165.5,"v":8.875},{"s":"CMCH-T","t":168.5,"v":8.88},{"s":"CMCH-T","t":171.5,"v":8.90},{"s":"CMCH-T","t":174.5,"v":8.915},{"s":"CMCH-T","t":177.5,"v":8.93},{"s":"CMCH-T","t":180.5,"v":8.945},{"s":"CMCH-T","t":183.5,"v":8.955},{"s":"CMCH-T","t":186.5,"v":8.965},{"s":"CMCH-T","t":189.5,"v":8.97},{"s":"CMCH-T","t":192.5,"v":8.975},{"s":"CMCH-T","t":195.5,"v":8.985},{"s":"CMCH-T","t":198.5,"v":8.99}
]
},
"vconcat": [
{
 "width": 533, "height": 394,
 "resolve": {"axis": {"x": "independent", "y": "independent"}},
 "layer": [
  {"data": {"values": [{}]}, "mark": {"type": "rect", "color": "black"},
   "encoding": {
    "x": {"datum": 114.8, "axis": {"orient": "bottom", "values": [-25,25,75,125,175], "labels": false, "title": null, "tickSize": 5, "offset": -5}},
    "x2": {"datum": 184.1},
    "y": {"datum": 8.40, "axis": {"orient": "left", "values": [4.301,4.477,4.602,4.699,4.778,4.845,4.903,4.954,5.301,5.477,5.602,5.699,5.778,5.845,5.903,5.954,6.301,6.477,6.602,6.699,6.778,6.845,6.903,6.954,7.301,7.477,7.602,7.699,7.778,7.845,7.903,7.954,8.301,8.477,8.602,8.699,8.778,8.845,8.903,8.954,9.301,9.477,9.602], "labels": false, "title": null, "tickSize": 4, "offset": -4}},
    "y2": {"datum": 6.825}}},
  {"data": {"name": "A"},
   "mark": {"type": "point", "filled": true, "strokeWidth": 1.1, "opacity": 1, "clip": true},
   "encoding": {
    "x": {"field": "t", "type": "quantitative", "scale": {"domain": [-34.8, 200], "nice": false, "zero": false},
          "axis": {"orient": "bottom", "title": "Temperature / °C", "values": [0,50,100,150,200], "format": "d", "tickSize": 10, "offset": -10, "labelPadding": 11, "titlePadding": 1, "titleX": 280}},
    "y": {"field": "v", "type": "quantitative", "scale": {"domain": [4.29, 9.69], "nice": false, "zero": false},
          "axis": {"orient": "left", "title": "Log (E' / Pa )", "values": [5,6,7,8,9], "format": "d", "tickSize": 8, "offset": -8, "labelPadding": 10, "titlePadding": 27, "titleY": 211}},
    "shape": {"field": "s", "type": "nominal", "scale": {"domain": ["CMCH-G","CMPE65-G","CMPE35-G","WPUE-G"], "range": ["circle","circle","triangle-up","triangle-up"]}, "legend": {"orient": "none", "legendX": 335, "legendY": 89, "title": null}},
    "fill": {"field": "s", "type": "nominal", "scale": {"domain": ["CMCH-G","CMPE65-G","CMPE35-G","WPUE-G"], "range": ["black","white","black","white"]}, "legend": {"orient": "none", "legendX": 335, "legendY": 89, "title": null}},
    "stroke": {"field": "s", "type": "nominal", "scale": {"domain": ["CMCH-G","CMPE65-G","CMPE35-G","WPUE-G"], "range": ["black","black","black","black"]}, "legend": {"orient": "none", "legendX": 335, "legendY": 89, "title": null}},
    "size": {"field": "s", "type": "nominal", "scale": {"domain": ["CMCH-G","CMPE65-G","CMPE35-G","WPUE-G"], "range": [140,130,190,190]}, "legend": {"orient": "none", "legendX": 335, "legendY": 89, "title": null}}
   }},
  {"data": {"values": [{}]}, "mark": {"type": "text", "text": "A", "font": "Liberation Serif", "fontSize": 31, "fontWeight": "bold", "align": "center", "baseline": "alphabetic", "color": "black"},
   "encoding": {"x": {"datum": -14.5, "axis": null}, "y": {"datum": 4.84, "axis": null}}}
 ]
},
{
 "width": 533, "height": 393,
 "resolve": {"axis": {"x": "independent", "y": "independent"}},
 "layer": [
  {"data": {"values": [{}]}, "mark": {"type": "rect", "color": "black"},
   "encoding": {
    "x": {"datum": 116.2, "axis": {"orient": "bottom", "values": [-25,25,75,125,175], "labels": false, "title": null, "tickSize": 5, "offset": -5}},
    "x2": {"datum": 184.1},
    "y": {"datum": 7.597, "axis": {"orient": "left", "values": [4.301,4.477,4.602,4.699,4.778,4.845,4.903,4.954,5.301,5.477,5.602,5.699,5.778,5.845,5.903,5.954,6.301,6.477,6.602,6.699,6.778,6.845,6.903,6.954,7.301,7.477,7.602,7.699,7.778,7.845,7.903,7.954,8.301,8.477,8.602,8.699,8.778,8.845,8.903,8.954,9.301,9.477,9.602], "labels": false, "title": null, "tickSize": 4, "offset": -4}},
    "y2": {"datum": 6.081}}},
  {"data": {"name": "B"},
   "mark": {"type": "point", "filled": true, "strokeWidth": 1.1, "opacity": 1, "clip": true},
   "encoding": {
    "x": {"field": "t", "type": "quantitative", "scale": {"domain": [-35, 200], "nice": false, "zero": false},
          "axis": {"orient": "bottom", "title": "Temperature  / °C", "values": [0,50,100,150,200], "format": "d", "tickSize": 10, "offset": -10, "labelPadding": 12, "titlePadding": 8, "titleX": 281}},
    "y": {"field": "v", "type": "quantitative", "scale": {"domain": [4.29, 9.66], "nice": false, "zero": false},
          "axis": {"orient": "left", "title": "Log (E' / Pa )", "values": [5,6,7,8,9], "format": "d", "tickSize": 8, "offset": -8, "labelPadding": 10, "titlePadding": 27, "titleY": 198}},
    "shape": {"field": "s", "type": "nominal", "scale": {"domain": ["CMCH-T","CMPE65-T","CMPE35-T","WPUE-T"], "range": ["circle","circle","triangle-up","triangle-up"]}, "legend": {"orient": "none", "legendX": 337, "legendY": 143, "title": null}},
    "fill": {"field": "s", "type": "nominal", "scale": {"domain": ["CMCH-T","CMPE65-T","CMPE35-T","WPUE-T"], "range": ["black","white","black","white"]}, "legend": {"orient": "none", "legendX": 337, "legendY": 143, "title": null}},
    "stroke": {"field": "s", "type": "nominal", "scale": {"domain": ["CMCH-T","CMPE65-T","CMPE35-T","WPUE-T"], "range": ["black","black","black","black"]}, "legend": {"orient": "none", "legendX": 337, "legendY": 143, "title": null}},
    "size": {"field": "s", "type": "nominal", "scale": {"domain": ["CMCH-T","CMPE65-T","CMPE35-T","WPUE-T"], "range": [140,130,190,190]}, "legend": {"orient": "none", "legendX": 337, "legendY": 143, "title": null}}
   }},
  {"data": {"values": [{}]}, "mark": {"type": "text", "text": "B", "font": "Liberation Serif", "fontSize": 31, "fontWeight": "bold", "align": "center", "baseline": "alphabetic", "color": "black"},
   "encoding": {"x": {"datum": -16.9, "axis": null}, "y": {"datum": 4.80, "axis": null}}}
 ]
}
],
"resolve": {"scale": {"x": "independent", "y": "independent", "shape": "independent", "fill": "independent", "stroke": "independent", "size": "independent"}, "legend": {"shape": "independent", "fill": "independent", "stroke": "independent", "size": "independent"}}
}
